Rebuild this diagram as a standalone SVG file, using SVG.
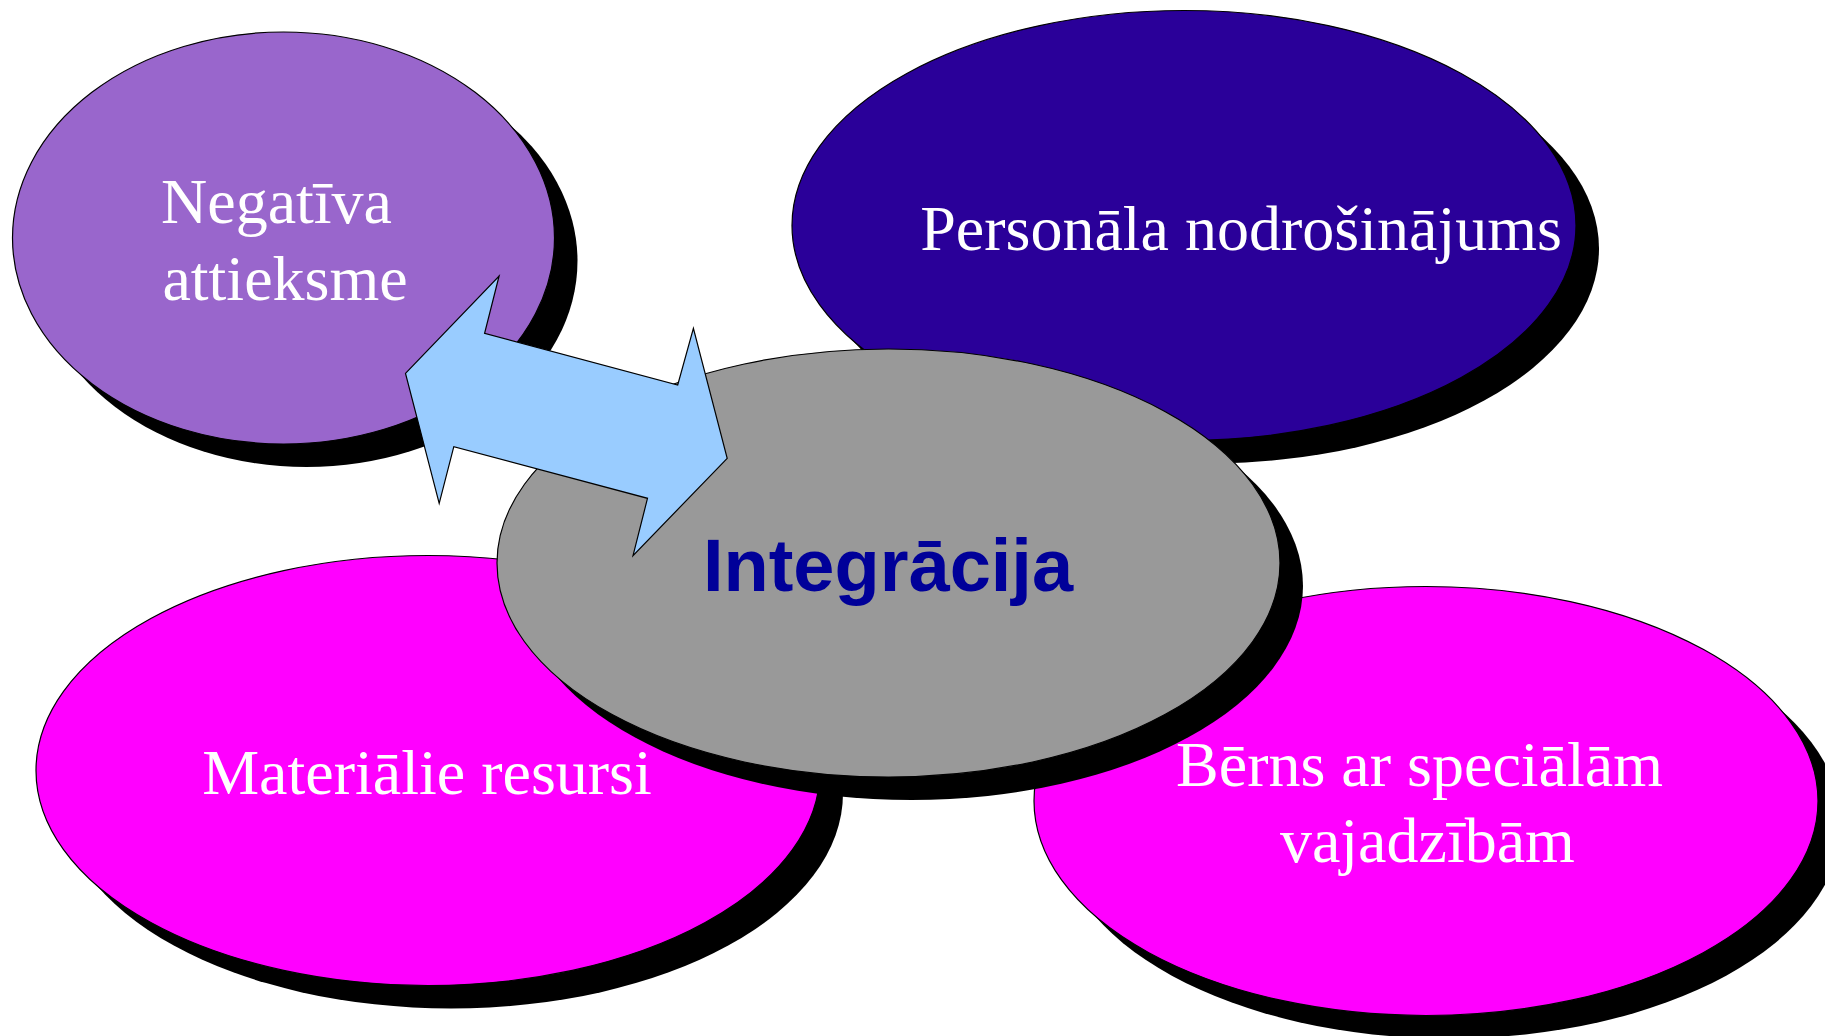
<svg xmlns="http://www.w3.org/2000/svg" width="1825" height="1036" viewBox="0 0 1825 1036">
<style>
.shadow{fill:#000000;stroke:none}
.node{stroke:#000000;stroke-width:1.2}
.lbl{font-family:"Liberation Serif","Times New Roman",serif;font-size:64px;fill:#FFFFFF;text-anchor:middle}
.center{font-family:"Liberation Sans",Arial,sans-serif;font-size:74px;font-weight:bold;fill:#000099;text-anchor:middle}
</style>
<rect width="1825" height="1036" fill="#FFFFFF"/>
<g id="node-negativa">
<ellipse class="shadow" cx="306.5" cy="261" rx="271" ry="206"/>
<ellipse class="node" cx="283.5" cy="238" rx="271" ry="206" fill="#9966CC"/>
<text class="lbl" x="276.5" y="222.7">Negatīva</text>
<text class="lbl" x="285" y="300">attieksme</text>
</g>
<g id="node-personala">
<ellipse class="shadow" cx="1207" cy="248.5" rx="392" ry="215"/>
<ellipse class="node" cx="1184" cy="225.5" rx="392" ry="215" fill="#2A0099"/>
<text class="lbl" x="1241" y="250">Personāla nodrošinājums</text>
</g>
<g id="node-materialie">
<ellipse class="shadow" cx="451" cy="793.5" rx="392" ry="215"/>
<ellipse class="node" cx="428" cy="770.5" rx="392" ry="215" fill="#FF00FF"/>
<text class="lbl" x="427" y="794">Materiālie resursi</text>
</g>
<g id="node-berns">
<ellipse class="shadow" cx="1449" cy="824" rx="392" ry="214.5"/>
<ellipse class="node" cx="1426" cy="801" rx="392" ry="214.5" fill="#FF00FF"/>
<text class="lbl" x="1419.5" y="786.3">Bērns ar speciālām</text>
<text class="lbl" x="1427.4" y="862.3">vajadzībām</text>
</g>
<g id="node-integracija">
<ellipse class="shadow" cx="911.5" cy="586" rx="391.5" ry="214"/>
<ellipse class="node" cx="888.5" cy="563" rx="391.5" ry="214" fill="#999999"/>
<text class="center" x="888" y="591.3">Integrācija</text>
</g>
<g id="connectors">
<polygon points="405.5,373.3 499.1,276 484.6,333.3 677.7,385 693.4,328.3 727.2,458.3 633,555.7 647.5,498.3 453.8,446.7 439.2,503.3" fill="#99CCFF" stroke="#000000" stroke-width="1.2" stroke-linejoin="miter"/>
</g>
</svg>
